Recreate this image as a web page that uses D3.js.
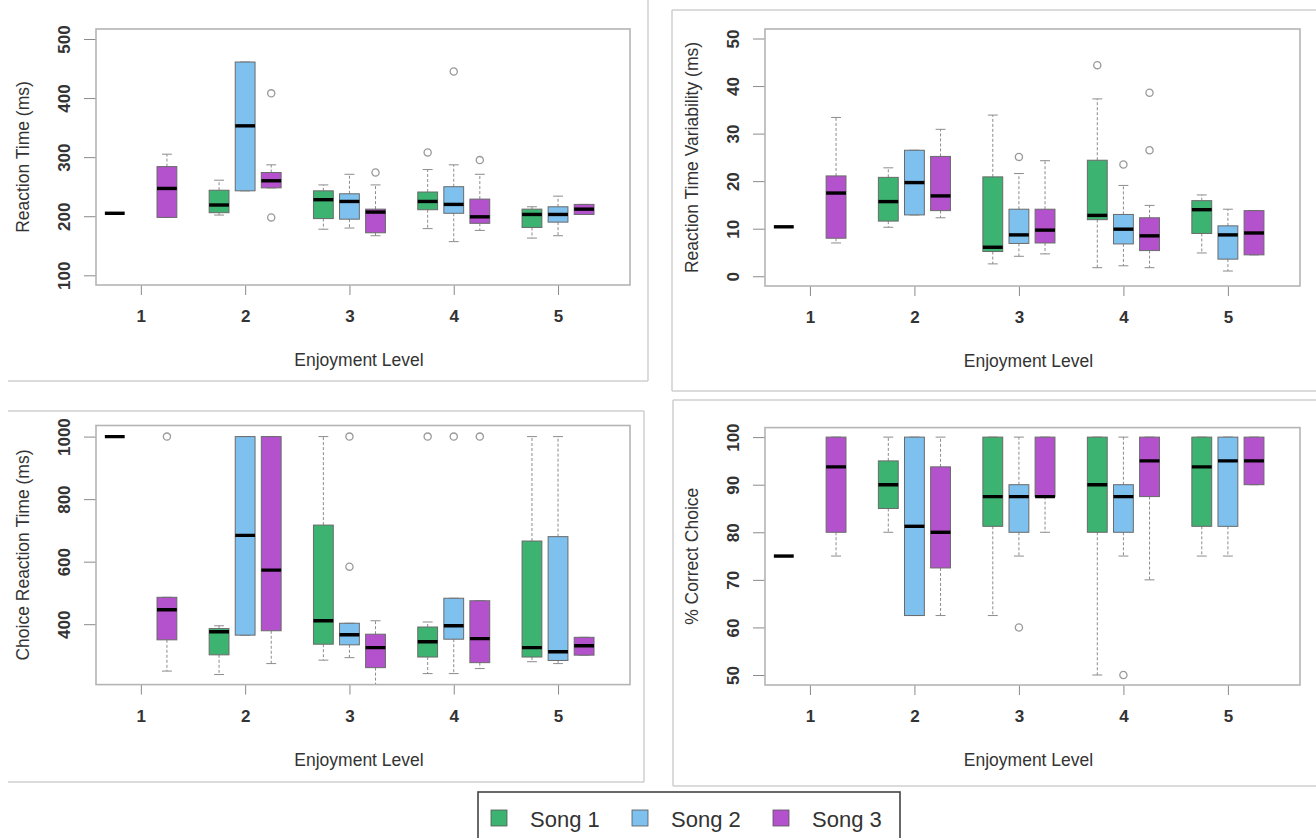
<!DOCTYPE html>
<html>
<head>
<meta charset="utf-8">
<script src="https://cdn.jsdelivr.net/npm/d3@7"></script>
<style>
  body { margin: 0; background: #fff; }
  svg { display: block; font-family: "Liberation Sans", Arial, sans-serif; }
</style>
</head>
<body>
<svg id="chart" width="1316" height="838"></svg>
<script>
const levels = [1, 2, 3, 4, 5]
const songs = ['Song 1', 'Song 2', 'Song 3']
const songColors = ['#3cb371', '#7ec0ee', '#b452cd']

// each row: [level, song index, lower whisker, q1, median, q3, upper whisker, outliers]
const reactionTime = [
  [1, 0, 205, 205, 205, 205, 205, []],
  [1, 2, 198, 198, 247, 284, 305, []],
  [2, 0, 202, 206, 219, 244, 261, []],
  [2, 1, 243, 243, 353, 461, 461, []],
  [2, 2, 248, 248, 260, 274, 287, [408, 198]],
  [3, 0, 178, 196, 228, 243, 253, []],
  [3, 1, 180, 195, 225, 238, 271, []],
  [3, 2, 167, 172, 207, 212, 253, [274]],
  [4, 0, 179, 211, 225, 241, 279, [308]],
  [4, 1, 157, 205, 220, 250, 287, [445]],
  [4, 2, 176, 188, 199, 229, 271, [295]],
  [5, 0, 163, 181, 203, 212, 216, []],
  [5, 1, 167, 190, 203, 216, 234, []],
  [5, 2, 203, 203, 212, 220, 220, []]
]

const rtVariability = [
  [1, 0, 10.4, 10.4, 10.4, 10.4, 10.4, []],
  [1, 2, 7.0, 8.0, 17.5, 21.1, 33.4, []],
  [2, 0, 10.3, 11.6, 15.7, 20.8, 22.8, []],
  [2, 1, 12.9, 12.9, 19.7, 26.5, 26.5, []],
  [2, 2, 12.3, 13.8, 16.9, 25.2, 30.9, []],
  [3, 0, 2.6, 5.2, 6.1, 20.9, 33.9, []],
  [3, 1, 4.2, 6.9, 8.7, 14.1, 21.6, [25.1]],
  [3, 2, 4.7, 7.0, 9.7, 14.1, 24.3, []],
  [4, 0, 1.8, 11.9, 12.8, 24.4, 37.3, [44.4]],
  [4, 1, 2.2, 6.8, 9.9, 13.0, 19.1, [23.5]],
  [4, 2, 1.8, 5.4, 8.5, 12.3, 14.9, [38.6, 26.5]],
  [5, 0, 4.9, 9.0, 14.0, 15.9, 17.1, []],
  [5, 1, 1.1, 3.6, 8.7, 10.6, 14.1, []],
  [5, 2, 4.5, 4.5, 9.1, 13.8, 13.8, []]
]

const choiceTime = [
  [1, 0, 1000, 1000, 1000, 1000, 1000, []],
  [1, 2, 250, 350, 446, 486, 486, [1000]],
  [2, 0, 239, 302, 376, 386, 395, []],
  [2, 1, 365, 365, 684, 1000, 1000, []],
  [2, 2, 274, 379, 573, 1000, 1000, []],
  [3, 0, 285, 336, 411, 717, 1000, []],
  [3, 1, 293, 334, 366, 403, 403, [1000, 584]],
  [3, 2, 190, 261, 325, 368, 411, []],
  [4, 0, 242, 295, 344, 391, 407, [1000]],
  [4, 1, 242, 352, 395, 483, 483, [1000]],
  [4, 2, 258, 277, 354, 475, 475, [1000]],
  [5, 0, 280, 295, 325, 666, 1000, []],
  [5, 1, 274, 284, 312, 680, 1000, []],
  [5, 2, 301, 301, 331, 358, 358, []]
]

const correctChoice = [
  [1, 0, 75, 75, 75, 75, 75, []],
  [1, 2, 75, 80, 93.75, 100, 100, []],
  [2, 0, 80, 85, 90, 95, 100, []],
  [2, 1, 62.5, 62.5, 81.25, 100, 100, []],
  [2, 2, 62.5, 72.5, 80, 93.75, 100, []],
  [3, 0, 62.5, 81.25, 87.5, 100, 100, []],
  [3, 1, 75, 80, 87.5, 90, 100, [60]],
  [3, 2, 80, 87.5, 87.5, 100, 100, []],
  [4, 0, 50, 80, 90, 100, 100, []],
  [4, 1, 75, 80, 87.5, 90, 100, [50]],
  [4, 2, 70, 87.5, 95, 100, 100, []],
  [5, 0, 75, 81.25, 93.75, 100, 100, []],
  [5, 1, 75, 81.25, 95, 100, 100, []],
  [5, 2, 90, 90, 95, 100, 100, []]
]

const rtTicks = [100, 200, 300, 400, 500]
const rtvTicks = [0, 10, 20, 30, 40, 50]
const choiceTicks = [400, 600, 800, 1000]
const correctTicks = [50, 60, 70, 80, 90, 100]

const xTitle = 'Enjoyment Level'

const panels = [
  {id: 'p1', data: reactionTime, title: 'Reaction Time (ms)', ticks: rtTicks, domain: [83.6, 516.9], left: 96, right: 630, top: 29, bottom: 285},
  {id: 'p2', data: rtVariability, title: 'Reaction Time Variability (ms)', ticks: rtvTicks, domain: [-2.05, 52.0], left: 765, right: 1300, top: 29, bottom: 286},
  {id: 'p3', data: choiceTime, title: 'Choice Reaction Time (ms)', ticks: choiceTicks, domain: [206.8, 1035.5], left: 96, right: 630, top: 425.5, bottom: 684.6},
  {id: 'p4', data: correctChoice, title: '% Correct Choice', ticks: correctTicks, domain: [47.9, 102.0], left: 765, right: 1300, top: 427.6, bottom: 685}
]

const songOffset = [-0.25, 0, 0.25]
const boxWex = 0.19

const svg = d3.select('#chart')

// panel frames (light gray borders around each figure)
const frameLines = [
  [8, 381, 648, 381], [648, -2, 648, 381],
  [672, 10, 1320, 10], [672, 10, 672, 391], [672, 391, 1320, 391],
  [8, 411, 644, 411], [644, 411, 644, 782], [8, 782, 644, 782],
  [673, 400, 1320, 400], [673, 400, 673, 786], [673, 786, 1320, 786]
]
svg.append('g')
  .selectAll('line')
  .data(frameLines)
  .enter()
  .append('line')
  .attr('x1', d => d[0]).attr('y1', d => d[1])
  .attr('x2', d => d[2]).attr('y2', d => d[3])
  .attr('stroke', '#cfcfcf')
  .attr('stroke-width', 1.5)

function drawPanel(p) {
  const g = svg.append('g').attr('id', p.id)
  const x = d3.scaleLinear().domain([0.57, 5.69]).range([p.left, p.right])
  const y = d3.scaleLinear().domain(p.domain).range([p.bottom, p.top])
  const half = (x(1 + boxWex) - x(1)) / 2

  g.append('clipPath').attr('id', 'clip-' + p.id)
    .append('rect')
    .attr('x', p.left).attr('y', p.top)
    .attr('width', p.right - p.left).attr('height', p.bottom - p.top)

  // x axis
  const xAxis = g.append('g')
    .attr('transform', `translate(0,${p.bottom})`)
    .call(d3.axisBottom(x).tickValues(levels).tickSize(10).tickPadding(15).tickFormat(d3.format('d')))
  xAxis.select('.domain').remove()
  xAxis.selectAll('line').attr('stroke', '#8a8a8a')
  xAxis.selectAll('text')
    .attr('font-size', 17).attr('font-weight', 'bold').attr('fill', '#333')
    .attr('font-family', '"Liberation Sans", Arial, sans-serif')

  // y axis
  const yAxis = g.append('g')
    .attr('transform', `translate(${p.left},0)`)
    .call(d3.axisLeft(y).tickValues(p.ticks).tickSize(12).tickFormat(d3.format('d')))
  yAxis.select('.domain').remove()
  yAxis.selectAll('line').attr('stroke', '#8a8a8a')
  yAxis.selectAll('text')
    .attr('x', null).attr('dy', '0.35em')
    .attr('text-anchor', 'middle')
    .attr('transform', 'translate(-32,0) rotate(-90)')
    .attr('font-size', 17).attr('font-weight', 'bold').attr('fill', '#333')
    .attr('font-family', '"Liberation Sans", Arial, sans-serif')

  // axis titles
  g.append('text')
    .attr('x', (p.left + p.right) / 2 - 4)
    .attr('y', p.bottom + 75)
    .attr('dy', '0.35em')
    .attr('text-anchor', 'middle')
    .attr('font-size', 17.5)
    .attr('fill', '#333')
    .text(xTitle)

  g.append('text')
    .attr('transform', `translate(${p.left - 73},${(p.top + p.bottom) / 2}) rotate(-90)`)
    .attr('dy', '0.35em')
    .attr('text-anchor', 'middle')
    .attr('font-size', 17.5)
    .attr('fill', '#333')
    .text(p.title)

  const marks = g.append('g').attr('clip-path', `url(#clip-${p.id})`)

  const boxes = marks.selectAll('g.box')
    .data(p.data)
    .enter()
    .append('g')
    .attr('class', 'box')
    .attr('transform', d => `translate(${x(d[0] + songOffset[d[1]])},0)`)

  // whiskers
  boxes.append('line')
    .attr('y1', d => y(d[5])).attr('y2', d => y(d[6]))
    .attr('stroke', '#8c8c8c').attr('stroke-dasharray', '3,2')
  boxes.append('line')
    .attr('y1', d => y(d[3])).attr('y2', d => y(d[2]))
    .attr('stroke', '#8c8c8c').attr('stroke-dasharray', '3,2')
  // staples
  boxes.selectAll('line.cap')
    .data(d => [d[2], d[6]])
    .enter()
    .append('line')
    .attr('class', 'cap')
    .attr('x1', -half / 2).attr('x2', half / 2)
    .attr('y1', v => y(v)).attr('y2', v => y(v))
    .attr('stroke', '#8c8c8c')

  boxes.append('rect')
    .attr('x', -half)
    .attr('width', half * 2)
    .attr('y', d => y(d[5]))
    .attr('height', d => y(d[3]) - y(d[5]))
    .attr('fill', d => songColors[d[1]])
    .attr('stroke', '#6a6a6a')
    .attr('stroke-width', 1)

  boxes.append('line')
    .attr('x1', -half).attr('x2', half)
    .attr('y1', d => y(d[4])).attr('y2', d => y(d[4]))
    .attr('stroke', '#000')
    .attr('stroke-width', 3.4)

  boxes.selectAll('circle')
    .data(d => d[7])
    .enter()
    .append('circle')
    .attr('r', 3.6)
    .attr('cy', v => y(v))
    .attr('fill', 'none')
    .attr('stroke', '#9a9a9a')
    .attr('stroke-width', 1.3)

  // plot region border
  g.append('rect')
    .attr('x', p.left).attr('y', p.top)
    .attr('width', p.right - p.left).attr('height', p.bottom - p.top)
    .attr('fill', 'none')
    .attr('stroke', '#b4b4b4')
    .attr('stroke-width', 1.6)
}

panels.forEach(drawPanel)

// legend
const legend = svg.append('g')
legend.append('rect')
  .attr('x', 478).attr('y', 792)
  .attr('width', 422).attr('height', 60)
  .attr('fill', '#fff')
  .attr('stroke', '#444')
  .attr('stroke-width', 1.6)

const legendItems = legend.selectAll('g.item')
  .data(songs)
  .enter()
  .append('g')
  .attr('class', 'item')
  .attr('transform', (d, i) => `translate(${491 + i * 141},810)`)

legendItems.append('rect')
  .attr('width', 16).attr('height', 16)
  .attr('fill', (d, i) => songColors[i])
  .attr('stroke', '#555')
  .attr('stroke-width', 0.8)

legendItems.append('text')
  .attr('x', 39)
  .attr('y', 17)
  .attr('font-size', 22)
  .attr('fill', '#333')
  .text(d => d)
</script>
</body>
</html>
